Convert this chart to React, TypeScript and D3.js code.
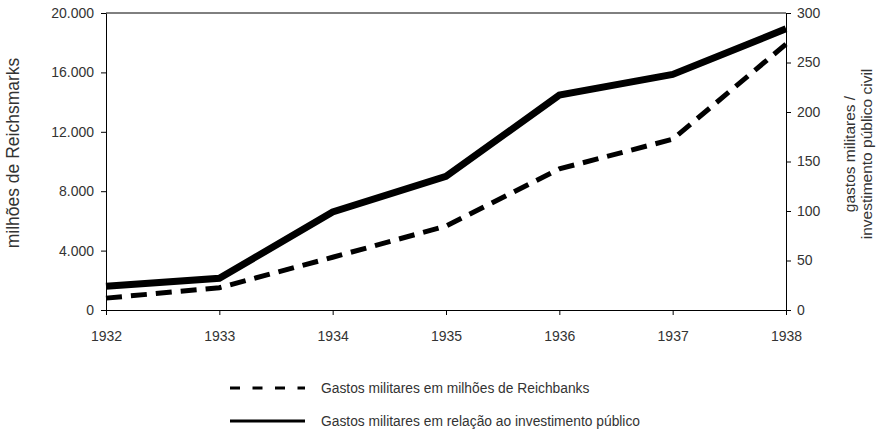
import React, { useRef, useEffect } from 'react';
import * as d3 from 'd3';

const years = [1932, 1933, 1934, 1935, 1936, 1937, 1938];
// gastos militares em milhões de Reichsmarks (eixo esquerdo)
const gastosMilhoes = [800, 1500, 3550, 5650, 9500, 11500, 17900];
// gastos militares / investimento público civil (eixo direito)
const gastosRelacao = [24, 32, 99, 135, 217, 238, 284];
const leftTicks = [0, 4000, 8000, 12000, 16000, 20000];
const rightTicks = [0, 50, 100, 150, 200, 250, 300];
const legendLabels = [
  'Gastos militares em milhões de Reichbanks',
  'Gastos militares em relação ao investimento público',
];

export default function App() {
  const svgRef = useRef<SVGSVGElement>(null);

  useEffect(() => {
    const svg = d3.select(svgRef.current);
    svg.selectAll('*').remove();
    const width = 877;
    const height = 431;
    const margin = { top: 13, right: 91, bottom: 121, left: 106 };
    const font = '"Liberation Sans", Arial, sans-serif';
    const textColor = '#333';

    const x = d3.scaleLinear()
      .domain([1932, 1938])
      .range([margin.left, width - margin.right]);

    const yLeft = d3.scaleLinear()
      .domain([0, 20000])
      .range([height - margin.bottom, margin.top]);

    const yRight = d3.scaleLinear()
      .domain([0, 300])
      .range([height - margin.bottom, margin.top]);

    const fmt = (d: number) => d3.format(',')(d).replace(/,/g, '.');

    // top border
    svg.append('line')
      .attr('x1', margin.left).attr('x2', width - margin.right)
      .attr('y1', margin.top).attr('y2', margin.top)
      .attr('stroke', '#000');

    const gx = svg.append('g')
      .attr('transform', `translate(0,${height - margin.bottom})`)
      .call(d3.axisBottom(x).tickValues(years).tickFormat(d3.format('d')).tickSize(5).tickSizeOuter(0));

    const gl = svg.append('g')
      .attr('transform', `translate(${margin.left},0)`)
      .call(d3.axisLeft(yLeft).tickValues(leftTicks).tickFormat(fmt as any).tickSize(5).tickSizeOuter(0));

    const gr = svg.append('g')
      .attr('transform', `translate(${width - margin.right},0)`)
      .call(d3.axisRight(yRight).tickValues(rightTicks).tickSize(5).tickSizeOuter(0));

    [gx, gl, gr].forEach(g => {
      g.selectAll('text')
        .attr('font-family', font)
        .attr('font-size', 14)
        .attr('fill', textColor);
      g.select('.domain').attr('stroke', '#000');
    });
    gx.selectAll('text').attr('y', 31).attr('dy', 0);
    gl.selectAll('text').attr('x', -12);
    gr.selectAll('text').attr('x', 11);

    const lineLeft = d3.line<number>()
      .x((_, i) => x(years[i]))
      .y(d => yLeft(d));

    const lineRight = d3.line<number>()
      .x((_, i) => x(years[i]))
      .y(d => yRight(d));

    svg.append('path')
      .datum(gastosMilhoes)
      .attr('fill', 'none')
      .attr('stroke', '#000')
      .attr('stroke-width', 5)
      .attr('stroke-dasharray', '16 9')
      .attr('d', lineLeft);

    svg.append('path')
      .datum(gastosRelacao)
      .attr('fill', 'none')
      .attr('stroke', '#000')
      .attr('stroke-width', 7)
      .attr('d', lineRight);

    // axis titles
    svg.append('text')
      .attr('transform', `translate(19,153) rotate(-90)`)
      .attr('text-anchor', 'middle')
      .attr('font-family', font)
      .attr('font-size', 17.5)
      .attr('fill', textColor)
      .text('milhões de Reichsmarks');

    const rt = svg.append('text')
      .attr('transform', `translate(855,154) rotate(-90)`)
      .attr('text-anchor', 'middle')
      .attr('font-family', font)
      .attr('font-size', 15.5)
      .attr('fill', textColor);
    rt.append('tspan').attr('x', 0).attr('dy', 0).text('gastos militares /');
    rt.append('tspan').attr('x', 0).attr('dy', 17).text('investimento público civil');

    // legend
    const legend = svg.append('g');
    const legendY = [388, 421];
    legendY.forEach((ly, i) => {
      legend.append('line')
        .attr('x1', 230).attr('x2', 305)
        .attr('y1', ly).attr('y2', ly)
        .attr('stroke', '#000')
        .attr('stroke-width', 3)
        .attr('stroke-dasharray', i === 0 ? '10 12.5' : null);
      legend.append('text')
        .attr('x', 321)
        .attr('y', ly)
        .attr('dy', '0.35em')
        .attr('font-family', font)
        .attr('font-size', 13.8)
        .attr('fill', textColor)
        .text(legendLabels[i]);
    });
  }, []);

  return <svg ref={svgRef} width={877} height={431} style={{ position: 'absolute', left: 0, top: 0 }} />;
}
